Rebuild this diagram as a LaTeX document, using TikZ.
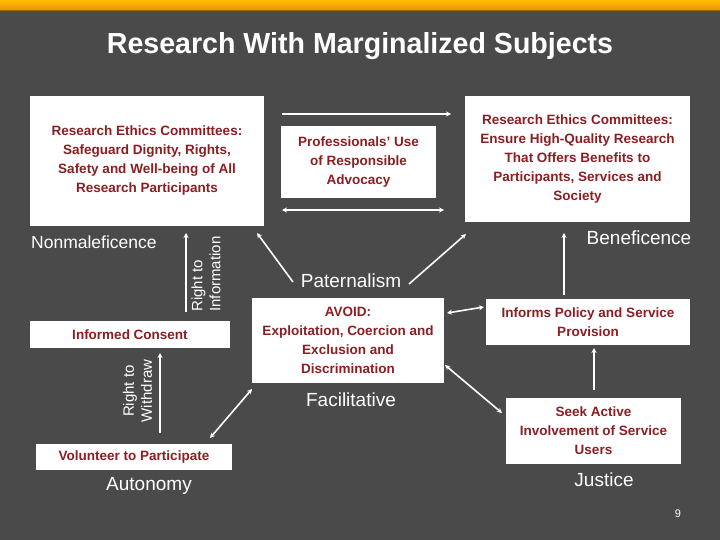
\documentclass[tikz,border=0pt]{standalone}
\usepackage{fontspec}
\setmainfont{Liberation Sans}
\usetikzlibrary{arrows.meta}
\definecolor{bg}{HTML}{4A4A4A}
\definecolor{boxred}{HTML}{8B1E22}
\definecolor{orgtop}{HTML}{FFBF00}
\definecolor{orgbot}{HTML}{EE8E00}
\begin{document}
\begin{tikzpicture}[x=1pt,y=-1pt,
 box/.style={fill=white, inner sep=0pt, text=boxred, font=\fontsize{13.5}{19}\selectfont\bfseries, align=center},
 lbl/.style={text=white, font=\fontsize{19}{21}\selectfont, inner sep=0pt},
 rot/.style={text=white, font=\fontsize{15}{18}\selectfont, inner sep=0pt, rotate=90},
 conn/.style={draw=white, line width=1.6pt, -{Stealth[length=5pt,width=5pt]}},
 dconn/.style={draw=white, line width=1.6pt, {Stealth[length=5pt,width=5pt]}-{Stealth[length=5pt,width=5pt]}}]
\useasboundingbox (0,0) rectangle (720,540);
\fill[bg] (0,0) rectangle (720,540);
\shade[top color=orgtop, bottom color=orgbot] (0,0) rectangle (720,10);
\fill[orgbot!70!black] (0,10) rectangle (720,11.5);

\node[text=white, font=\fontsize{29}{30}\selectfont\bfseries, inner sep=0pt] (title) at (360,46) {\scalebox{0.985}[1]{Research With Marginalized Subjects}};

% boxes
\node[box, minimum width=234pt, minimum height=130pt] (rec1) at (147,161) {Research Ethics Committees:\\Safeguard Dignity, Rights,\\Safety and Well-being of All\\Research Participants};
\node[box, minimum width=155pt, minimum height=72pt] (prof) at (358.5,162) {Professionals' Use\\of Responsible\\Advocacy};
\node[box, minimum width=225pt, minimum height=126pt] (rec2) at (577.5,159) {Research Ethics Committees:\\Ensure High-Quality Research\\That Offers Benefits to\\Participants, Services and\\Society};
\node[box, minimum width=200pt, minimum height=27pt] (cons) at (130,334.5) {Informed Consent};
\node[box, minimum width=196pt, minimum height=26pt] (vol) at (134,457) {Volunteer to Participate};
\node[box, minimum width=192pt, minimum height=85pt] (avoid) at (348,340.5) {AVOID:\\Exploitation, Coercion and\\Exclusion and\\Discrimination};
\node[box, minimum width=204pt, minimum height=46pt] (pol) at (588,322) {Informs Policy and Service\\Provision};
\node[box, minimum width=175pt, minimum height=66pt] (seek) at (593.5,431) {Seek Active\\Involvement of Service\\Users};

% labels
\node[lbl, anchor=west, font=\fontsize{17.5}{21}\selectfont] (nonm) at (31,242) {Nonmaleficence};
\node[rot, align=left] (rinf) at (206,274) {Right to\\Information};
\node[rot, align=center] (rwd) at (137.5,391) {Right to\\Withdraw};
\node[lbl] (auto) at (149,486) {Autonomy};
\node[lbl] (pat) at (351,281) {Paternalism};
\node[lbl] (fac) at (351,400) {Facilitative};
\node[lbl] (bene) at (639,238) {Beneficence};
\node[lbl] (just) at (604,480) {Justice};
\node[text=white, font=\fontsize{11}{12}\selectfont, inner sep=0pt] (pg) at (678,514) {9};

% connector end points
\coordinate (t1) at (282,114); \coordinate (t2) at (451,114);
\coordinate (b1) at (282,210); \coordinate (b2) at (444,210);
\coordinate (pl1) at (293,282); \coordinate (pl2) at (257,233);
\coordinate (pr1) at (409,284); \coordinate (pr2) at (466,234);
\coordinate (ai1) at (447,313); \coordinate (ai2) at (484,307);
\coordinate (as1) at (445,365); \coordinate (as2) at (502,413);
\coordinate (av1) at (252,389); \coordinate (av2) at (210,438);
\coordinate (w1) at (160,433); \coordinate (w2) at (160,353);
\coordinate (i1) at (186,312); \coordinate (i2) at (186,233);
\coordinate (be1) at (564,295); \coordinate (be2) at (564,233);
\coordinate (j1) at (594,390); \coordinate (j2) at (594,348);

\draw[conn] (t1) -- (t2);
\draw[dconn] (b1) -- (b2);
\draw[conn] (pl1) -- (pl2);
\draw[conn] (pr1) -- (pr2);
\draw[dconn] (ai1) -- (ai2);
\draw[dconn] (as1) -- (as2);
\draw[dconn] (av1) -- (av2);
\draw[conn] (w1) -- (w2);
\draw[conn] (i1) -- (i2);
\draw[conn] (be1) -- (be2);
\draw[conn] (j1) -- (j2);
\end{tikzpicture}
\end{document}
